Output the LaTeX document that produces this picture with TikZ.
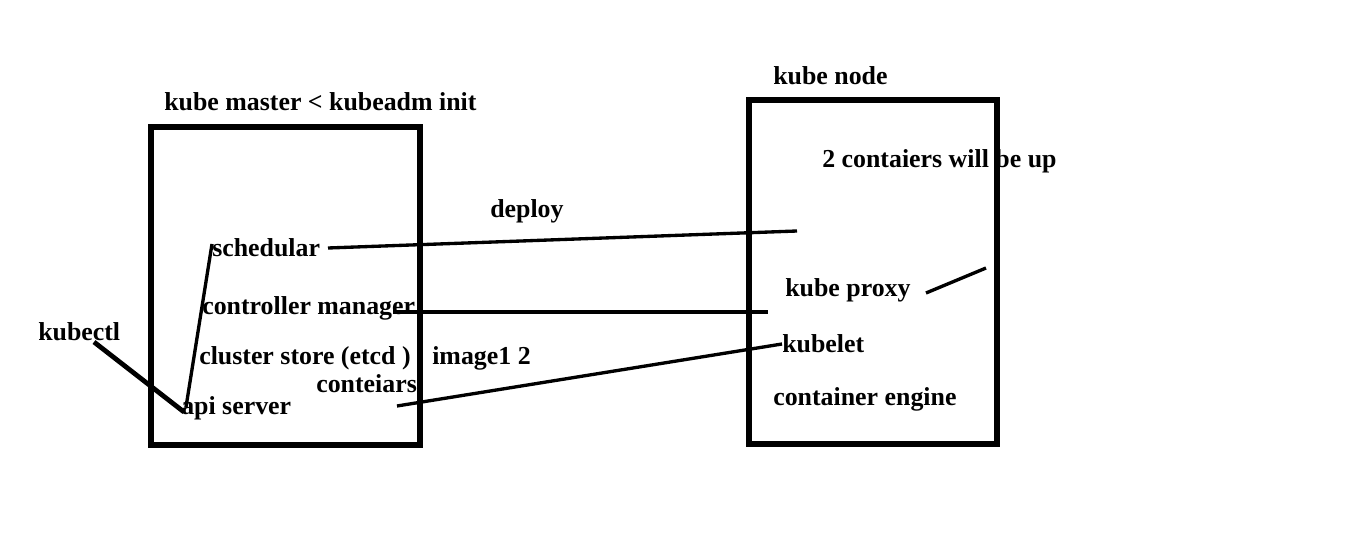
\documentclass[tikz,border=0pt]{standalone}
\usepackage{fontspec}
\setmainfont{Liberation Serif}
\usepackage{tikz}

\begin{document}
\begin{tikzpicture}[x=0.75pt, y=-0.75pt,
  lbl/.style={anchor=west, inner sep=0pt, font=\fontsize{19.4}{22}\selectfont\bfseries},
  box/.style={line width=3.8pt},
  wire/.style={line width=2.5pt}]
\useasboundingbox (0,0) rectangle (1355,545);

% boxes
\draw [box] (151,127) rectangle (420,445);
\draw [box] (749,100) rectangle (997,444);

% master side
\node (mtitle) [lbl] at (164,102) {kube master < kubeadm init};
\node (sched) [lbl] at (212,248) {schedular};
\node (ctrl) [lbl] at (202,308) {controller manager};
\node (etcd) [lbl] at (199,358) {cluster store (etcd )};
\node (api) [lbl] at (181,408) {api server};
\node (kctl) [lbl] at (38,332) {kubectl};
\node (img) [lbl] at (432,358) {image1 2};
\node (cont) [lbl] at (316,384) {conteiars};
\node (dep) [lbl] at (490,211) {deploy};

% node side
\node (ntitle) [lbl] at (773,76) {kube node};
\node (up) [lbl] at (822,161) {2 contaiers will be up};
\node (proxy) [lbl] at (785,290) {kube proxy};
\node (klet) [lbl] at (782,344) {kubelet};
\node (eng) [lbl] at (773,399) {container engine};

\coordinate (s1) at (328,248);
\coordinate (s2) at (797,231);
\coordinate (c1) at (393,312);
\coordinate (c2) at (768,312);
\coordinate (i1) at (397,406);
\coordinate (p1) at (926,293);
\coordinate (p2) at (986,268);
\coordinate (k1) at (94,342);
\coordinate (k2) at (184,412);
\coordinate (a1) at (212,244);
\coordinate (a2) at (186,407);

\draw [wire] (s1) -- (s2);
\draw [wire] (c1) -- (c2);
\draw [wire] (i1) -- (klet.west);
\draw [wire] (p1) -- (p2);
\draw [line width=3.6pt] (k1) -- (k2);
\draw [wire] (a1) -- (a2);
\end{tikzpicture}
\end{document}
